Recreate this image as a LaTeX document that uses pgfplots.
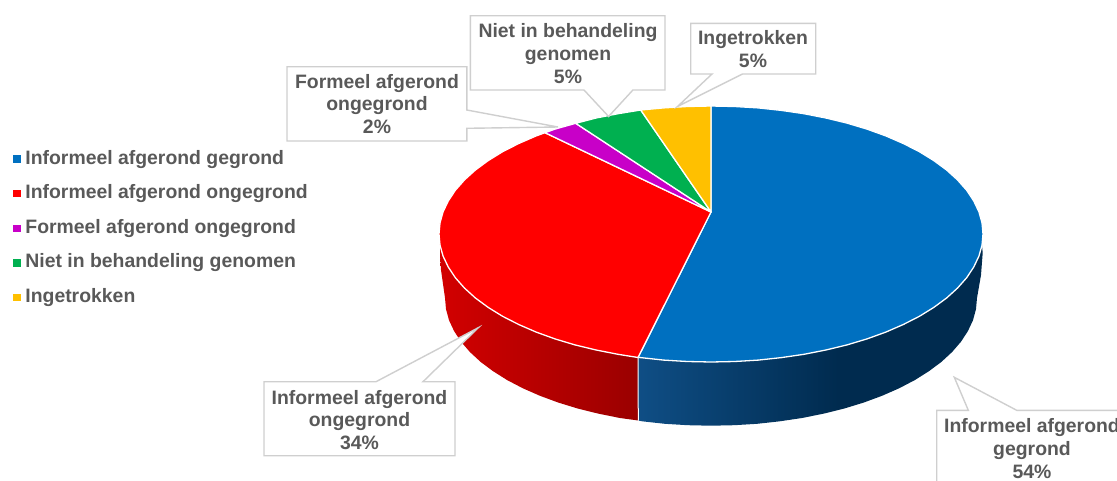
\documentclass[border=0pt]{standalone}
\usepackage{fontspec}
\setmainfont{Liberation Sans}
\usepackage{pgfplots}
\pgfplotsset{compat=1.18}
\definecolor{pieblue}{HTML}{0070C0}
\definecolor{piered}{HTML}{FF0000}
\definecolor{piepurple}{HTML}{C800C8}
\definecolor{piegreen}{HTML}{00B050}
\definecolor{pieyellow}{HTML}{FFC000}
\definecolor{labeltext}{HTML}{595959}
\definecolor{boxline}{HTML}{CFCFCF}
\definecolor{redsideA}{HTML}{D20000}
\definecolor{redsideB}{HTML}{9A0000}
\definecolor{bluesideA}{HTML}{0F4E85}
\definecolor{bluesideB}{HTML}{002B4F}
% the 25bp..75bp part of a shading is what covers the bounding box of the path
\pgfdeclarehorizontalshading{redside}{100bp}{
  color(0bp)=(redsideA); color(25bp)=(redsideA);
  color(75bp)=(redsideB); color(100bp)=(redsideB)}
\pgfdeclarehorizontalshading{blueside}{100bp}{
  color(0bp)=(bluesideA); color(25bp)=(bluesideA);
  color(54bp)=(bluesideB); color(100bp)=(bluesideB)}
\tikzset{
  slice/.style={draw=white,line width=1.3pt,line join=round},
  callout/.style={draw=boxline,line width=1.4pt,fill=white,line join=miter},
  lbl/.style={font=\fontsize{19.4pt}{22.8pt}\bfseries\selectfont,text=labeltext,align=center,inner sep=0pt},
}
\begin{document}
\begin{tikzpicture}
\path[use as bounding box,clip] (0,0) rectangle (1117pt,480pt);
\begin{axis}[
    scale only axis,
    width=1117pt,
    height=480pt,
    xmin=0, xmax=1117,
    ymin=0, ymax=480,
    y dir=reverse,
    hide axis,
    no markers,
    legend cell align=left,
    legend image code/.code={\fill[#1] (0pt,-3pt) rectangle (6.5pt,3.5pt);},
    legend style={
        at={(axis cs:13,149.5)},anchor=north west,
        draw=none,fill=none,inner sep=0pt,outer sep=0pt,
        font=\fontsize{19.4pt}{22pt}\bfseries\selectfont,text=labeltext,
        nodes={text height=14.5pt,text depth=4.5pt,inner sep=0pt},
        row sep=15.6pt,
        /tikz/every odd column/.style={column sep=5.5pt},
    },
]
% side walls
\addplot[forget plot,draw=none,shading=redside] coordinates {
 (638,357.5) (618,354.3) (596.1,350) (575,344.9) (555,338.9) (536.2,332.1) (518.7,324.5)
 (502.6,316.3) (488.2,307.4) (475.4,298) (464.5,288.1) (455.4,277.8) (448.3,267.1) (443.1,256.2)
 (440,245.2) (440,255) (441,270) (445,298) (446,309.1) (449,320.2) (454.1,331.1) (461,341.7)
 (469.9,352) (480.6,361.9) (493.1,371.2) (507.2,380.1) (522.9,388.3) (540,395.8) (558.4,402.6)
 (578,408.6) (598.6,413.7) (620,418) (638.3,420.5)
} -- cycle;
\addplot[forget plot,draw=none,shading=blueside] coordinates {
 (638,357.5) (640.6,357.6) (663.8,360.1) (687.3,361.5) (711,362) (734.7,361.5) (758.2,360.1)
 (781.4,357.6) (804,354.3) (825.9,350) (847,344.9) (867,338.9) (885.8,332.1) (903.3,324.5)
 (919.4,316.3) (933.8,307.4) (946.6,298) (957.5,288.1) (966.6,277.8) (973.7,267.1) (978.9,256.2)
 (982,245.2) (982.7,253) (981,275) (977,298) (976,309.1) (973,320.2) (967.9,331.1) (961,341.7)
 (952.1,352) (941.4,361.9) (928.9,371.2) (914.8,380.1) (899.1,388.3) (882,395.8) (863.6,402.6)
 (844,408.6) (823.4,413.7) (802,418) (779.8,421.3) (757.2,423.8) (734.2,425.2) (711,425.7)
 (687.8,425.2) (664.8,423.8) (642.2,421.3) (638.3,420.5)
} -- cycle;
\addplot[forget plot,white,line width=1pt] coordinates {(638,357.5) (638.3,420.5)};
% top faces: 54, 34, 2, 5, 5 percent
\addplot[forget plot,slice,fill=pieblue] coordinates {
 (711,212) (711,106) (734.7,106.5) (758.2,107.9) (781.4,110.4) (804,113.7) (825.9,118) (847,123.1)
 (867,129.1) (885.8,135.9) (903.3,143.5) (919.4,151.7) (933.8,160.6) (946.6,170) (957.5,179.9)
 (966.6,190.2) (973.7,200.9) (978.9,211.8) (982,222.8) (983,234) (982,245.2) (978.9,256.2)
 (973.7,267.1) (966.6,277.8) (957.5,288.1) (946.6,298) (933.8,307.4) (919.4,316.3) (903.3,324.5)
 (885.8,332.1) (867,338.9) (847,344.9) (825.9,350) (804,354.3) (781.4,357.6) (758.2,360.1)
 (734.7,361.5) (711,362) (687.3,361.5) (663.8,360.1) (640.6,357.6) (638,357.5)
} -- cycle;
\addplot[forget plot,slice,fill=piered] coordinates {
 (711,212) (638,357.5) (618,354.3) (596.1,350) (575,344.9) (555,338.9) (536.2,332.1) (518.7,324.5)
 (502.6,316.3) (488.2,307.4) (475.4,298) (464.5,288.1) (455.4,277.8) (448.3,267.1) (443.1,256.2)
 (440,245.2) (439,234) (440,222.8) (443.1,211.8) (448.3,200.9) (455.4,190.2) (464.5,179.9)
 (475.4,170) (488.2,160.6) (502.6,151.7) (518.7,143.5) (536.2,135.9) (545,132.7)
} -- cycle;
\addplot[forget plot,slice,fill=piepurple] coordinates {
 (711,212) (545,132.7) (555,129.1) (575.7,123.3)
} -- cycle;
\addplot[forget plot,slice,fill=piegreen] coordinates {
 (711,212) (575.7,123.3) (596.1,118) (618,113.7) (640.7,110)
} -- cycle;
\addplot[forget plot,slice,fill=pieyellow] coordinates {
 (711,212) (640.7,110) (663.8,107.9) (687.3,106.5) (711,106)
} -- cycle;
% callouts
\addplot[forget plot,callout] coordinates {
 (470.4,15.7) (665,15.7) (665,90) (632.9,90) (608.6,116.5) (584,90) (470.4,90)
} -- cycle;
\addplot[forget plot,callout] coordinates {
 (690.7,23.3) (815.7,23.3) (815.7,74) (742.5,74) (677.5,106.5) (712,74) (690.7,74)
} -- cycle;
\addplot[forget plot,callout] coordinates {
 (287,66.7) (466.8,66.7) (466.8,110) (558,127) (466.8,128.3) (466.8,141) (287,141)
} -- cycle;
\addplot[forget plot,callout] coordinates {
 (264,381.7) (376,381.7) (478.3,327.7) (423,381.7) (455,381.7) (455,455.7) (264,455.7)
} -- cycle;
\addplot[forget plot,callout] coordinates {
 (936.7,410.3) (968.3,410.3) (954.3,377.3) (1016.7,410.3) (1130,410.3) (1130,490) (936.7,490)
} -- cycle;
\node[lbl] at (axis cs:568,53.5) {Niet in behandeling\\genomen\\5\%};
\node[lbl] at (axis cs:753,49) {Ingetrokken\\5\%};
\node[lbl] at (axis cs:377,104) {Formeel afgerond\\ongegrond\\2\%};
\node[lbl] at (axis cs:359.5,420) {Informeel afgerond\\ongegrond\\34\%};
\node[lbl] at (axis cs:1032,448.5) {Informeel afgerond\\gegrond\\54\%};
% legend
\addlegendimage{pieblue}
\addlegendentry{Informeel afgerond gegrond}
\addlegendimage{piered}
\addlegendentry{Informeel afgerond ongegrond}
\addlegendimage{piepurple}
\addlegendentry{Formeel afgerond ongegrond}
\addlegendimage{piegreen}
\addlegendentry{Niet in behandeling genomen}
\addlegendimage{pieyellow}
\addlegendentry{Ingetrokken}
\end{axis}
\end{tikzpicture}
\end{document}
